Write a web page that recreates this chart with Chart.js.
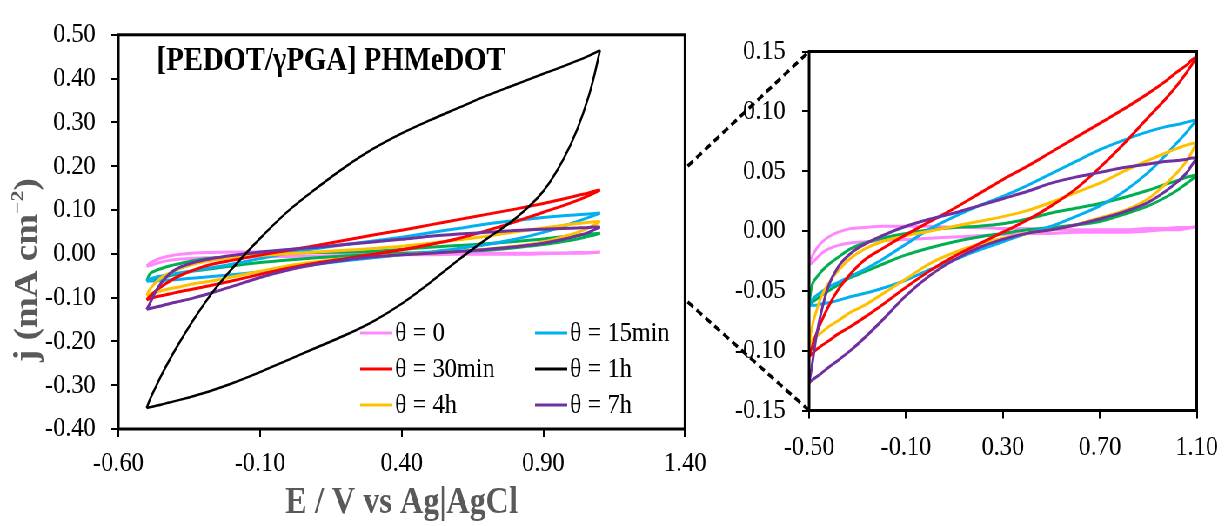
<!DOCTYPE html>
<html>
<head>
<meta charset="utf-8">
<title>[PEDOT/γPGA] PHMeDOT - cyclic voltammograms</title>
<script src="https://cdn.jsdelivr.net/npm/chart.js@4.4.1/dist/chart.umd.min.js"></script>
<style>
  html, body { margin: 0; padding: 0; background: #fff; overflow: hidden; }
  /* the source figure is squeezed horizontally, so the whole stage is too */
  #stage { position: absolute; left: 0; top: 0; width: 1412px; height: 526px;
           transform: scaleX(0.87); transform-origin: 0 0; }
  #main { position: absolute; left: 0; top: 0; }
  #inset { position: absolute; left: 786px; top: 0; }
</style>
</head>
<body>
<div id="stage">
  <canvas id="main" width="830" height="526"></canvas>
  <canvas id="inset" width="626" height="526"></canvas>
</div>
<script>
/* ---------- Data (E in V vs Ag|AgCl, j in mA cm-2) ---------- */
const potentials = [-0.50, -0.49, -0.47, -0.45, -0.42, -0.38, -0.33, -0.27, -0.20, -0.10,
                    0.00, 0.10, 0.20, 0.30, 0.40, 0.50, 0.60, 0.70, 0.80, 0.90,
                    0.97, 1.02, 1.06, 1.08, 1.10];

// forward (anodic) branch and backward (cathodic) branch, both listed on the potentials grid
const pinkFwd   = [-0.028, -0.022, -0.015, -0.010, -0.005, -0.001, 0.002, 0.003, 0.004, 0.004, 0.004, 0.003, 0.003, 0.002, 0.002, 0.001, 0.001, 0.001, 0.001, 0.002, 0.002, 0.003, 0.003, 0.003, 0.004];
const pinkRev   = [-0.028, -0.027, -0.023, -0.019, -0.015, -0.012, -0.010, -0.009, -0.008, -0.007, -0.006, -0.005, -0.004, -0.003, -0.002, -0.002, -0.001, -0.001, -0.001, 0.000, 0.001, 0.001, 0.002, 0.003, 0.004];
const blueFwd   = [-0.062, -0.058, -0.054, -0.051, -0.047, -0.043, -0.038, -0.032, -0.024, -0.011, 0.002, 0.012, 0.021, 0.029, 0.038, 0.048, 0.058, 0.068, 0.076, 0.083, 0.087, 0.089, 0.091, 0.092, 0.093];
const blueRev   = [-0.062, -0.062, -0.062, -0.061, -0.060, -0.058, -0.055, -0.052, -0.048, -0.041, -0.032, -0.024, -0.016, -0.009, -0.002, 0.004, 0.012, 0.021, 0.033, 0.049, 0.063, 0.074, 0.083, 0.088, 0.093];
const redFwd    = [-0.105, -0.098, -0.086, -0.076, -0.063, -0.049, -0.036, -0.024, -0.015, -0.003, 0.008, 0.019, 0.031, 0.043, 0.054, 0.066, 0.078, 0.090, 0.102, 0.115, 0.125, 0.133, 0.139, 0.143, 0.146];
const redRev    = [-0.105, -0.103, -0.099, -0.096, -0.092, -0.086, -0.080, -0.072, -0.062, -0.047, -0.033, -0.021, -0.011, -0.001, 0.009, 0.021, 0.035, 0.053, 0.073, 0.095, 0.110, 0.122, 0.133, 0.139, 0.146];
const blackFwd  = [-0.352, -0.335, -0.307, -0.280, -0.243, -0.198, -0.146, -0.090, -0.035, 0.035, 0.098, 0.150, 0.198, 0.240, 0.275, 0.305, 0.333, 0.361, 0.386, 0.411, 0.428, 0.441, 0.452, 0.458, 0.465];
const blackRev  = [-0.352, -0.3505, -0.3475, -0.3445, -0.3395, -0.333, -0.324, -0.312, -0.296, -0.270, -0.242, -0.214, -0.186, -0.154, -0.114, -0.066, -0.014, 0.034, 0.080, 0.143, 0.215, 0.285, 0.360, 0.408, 0.465];
const yellowFwd = [-0.095, -0.082, -0.067, -0.055, -0.044, -0.033, -0.023, -0.015, -0.009, -0.004, 0.000, 0.004, 0.008, 0.012, 0.017, 0.024, 0.032, 0.040, 0.050, 0.059, 0.065, 0.069, 0.072, 0.073, 0.074];
const yellowRev = [-0.095, -0.092, -0.088, -0.085, -0.080, -0.075, -0.068, -0.062, -0.053, -0.040, -0.027, -0.018, -0.011, -0.006, -0.002, 0.001, 0.005, 0.011, 0.017, 0.027, 0.039, 0.049, 0.059, 0.066, 0.074];
const purpleFwd = [-0.127, -0.115, -0.088, -0.068, -0.046, -0.030, -0.019, -0.011, -0.004, 0.004, 0.010, 0.015, 0.021, 0.027, 0.033, 0.040, 0.045, 0.049, 0.053, 0.056, 0.058, 0.059, 0.060, 0.061, 0.061];
const purpleRev = [-0.127, -0.125, -0.122, -0.119, -0.114, -0.108, -0.100, -0.089, -0.075, -0.054, -0.037, -0.024, -0.014, -0.007, -0.002, 0.001, 0.005, 0.010, 0.016, 0.024, 0.033, 0.041, 0.049, 0.055, 0.061];
const greenFwd  = [-0.062, -0.047, -0.039, -0.034, -0.028, -0.022, -0.015, -0.010, -0.006, -0.002, 0.001, 0.003, 0.004, 0.006, 0.010, 0.015, 0.019, 0.023, 0.028, 0.034, 0.039, 0.042, 0.045, 0.046, 0.047];
const greenRev  = [-0.062, -0.060, -0.057, -0.054, -0.050, -0.045, -0.039, -0.034, -0.028, -0.020, -0.014, -0.009, -0.005, -0.002, 0.001, 0.003, 0.005, 0.008, 0.014, 0.021, 0.028, 0.034, 0.040, 0.043, 0.047];

const legendLabels = ["θ = 0", "θ = 15min", "θ = 30min", "θ = 1h", "θ = 4h", "θ = 7h"];

const mainXTicks  = [-0.60, -0.10, 0.40, 0.90, 1.40];
const mainYTicks  = [-0.40, -0.30, -0.20, -0.10, 0.00, 0.10, 0.20, 0.30, 0.40, 0.50];
const insetXTicks = [-0.50, -0.10, 0.30, 0.70, 1.10];
const insetYTicks = [-0.15, -0.10, -0.05, 0.00, 0.05, 0.10, 0.15];
const zoomedRange = [-0.11, 0.20];   // where the dashed guide lines leave the main plot

const figureTitle = "[PEDOT/γPGA] PHMeDOT";
const xTitle = "E / V vs Ag|AgCl";

/* ---------- Styles ---------- */
const SERIF = "'Liberation Serif', 'Times New Roman', serif";
const TITLE_GREY = "#595959";
const INSET_LEFT = 786;   // css left of the inset canvas inside the stage

// first entry is drawn on top
const series = [
    { key: "1h",    label: legendLabels[3], color: "#000000", fwd: blackFwd,  rev: blackRev,  width: 2.5 },
    { key: "7h",    label: legendLabels[5], color: "#7030a0", fwd: purpleFwd, rev: purpleRev, width: 3 },
    { key: "30min", label: legendLabels[2], color: "#ff0000", fwd: redFwd,    rev: redRev,    width: 3 },
    { key: "4h",    label: legendLabels[4], color: "#ffc000", fwd: yellowFwd, rev: yellowRev, width: 3 },
    { key: "15min", label: legendLabels[1], color: "#00b0f0", fwd: blueFwd,   rev: blueRev,   width: 3 },
    { key: "green", label: "",              color: "#00b050", fwd: greenFwd,  rev: greenRev,  width: 3 },
    { key: "0",     label: legendLabels[0], color: "#ff88ff", fwd: pinkFwd,   rev: pinkRev,   width: 3 }
];

/* ---------- Helpers ---------- */
function branch(values) {
    return potentials.map((e, i) => ({ x: e, y: values[i] }));
}

// each voltammogram = two branches, drawn as smooth monotone curves
function datasetsFor(list) {
    return list.flatMap(s => [s.fwd, s.rev].map(vals => ({
        label: s.label,
        data: branch(vals),
        borderColor: s.color,
        borderWidth: s.width,
        showLine: true,
        pointRadius: 0,
        cubicInterpolationMode: "monotone",
        fill: false
    })));
}

function axis(min, max, tickValues, opts) {
    return {
        type: "linear",
        min, max,
        afterBuildTicks: s => { s.ticks = tickValues.map(v => ({ value: v })); },
        afterFit: opts.fit,
        border: { display: false },
        grid: { drawOnChartArea: false, drawTicks: true, tickLength: 8, color: "#000", lineWidth: 2 },
        ticks: {
            autoSkip: false, maxRotation: 0,
            padding: opts.pad,
            color: "#000",
            font: { family: SERIF, size: 28 },
            callback: v => v.toFixed(2)
        }
    };
}

function drawFrame(ctx, a) {
    ctx.strokeStyle = "#000";
    ctx.lineWidth = 3;
    ctx.strokeRect(a.left, a.top, a.right - a.left, a.bottom - a.top);
}

/* ---------- Main plot decorations ---------- */
const mainDecor = {
    id: "mainDecor",
    afterDraw(chart) {
        const { ctx, chartArea: a } = chart;
        ctx.save();
        drawFrame(ctx, a);

        // header inside the plot
        ctx.fillStyle = "#000";
        ctx.font = "bold 33px " + SERIF;
        ctx.textAlign = "left";
        ctx.textBaseline = "alphabetic";
        ctx.fillText(figureTitle, a.left + 44, 70);

        // x axis title
        ctx.fillStyle = TITLE_GREY;
        ctx.font = "bold 37px " + SERIF;
        ctx.textAlign = "center";
        ctx.fillText(xTitle, (a.left + a.right) / 2, 513);

        // y axis title with superscript
        const big = "bold 37px " + SERIF, small = "bold 22px " + SERIF;
        ctx.font = big;
        const w1 = ctx.measureText("j (mA cm").width;
        const w3 = ctx.measureText(")").width;
        ctx.font = small;
        const w2 = ctx.measureText("\u22122").width;
        ctx.translate(42, 270);
        ctx.rotate(-Math.PI / 2);
        ctx.textAlign = "left";
        let x = -(w1 + w2 + w3) / 2;
        ctx.font = big;   ctx.fillText("j (mA cm", x, 0); x += w1;
        ctx.font = small; ctx.fillText("\u22122", x, -15); x += w2;
        ctx.font = big;   ctx.fillText(")", x, 0);
        ctx.setTransform(1, 0, 0, 1, 0, 0);

        // legend, two columns
        const cols = [a.left + 278, a.left + 479];
        const rows = [a.bottom - 96, a.bottom - 60, a.bottom - 24];
        ctx.font = "28px " + SERIF;
        ctx.textBaseline = "middle";
        ctx.fillStyle = "#000";
        legendLabels.forEach((lab, k) => {
            const s = series.find(d => d.label === lab);
            const lx = cols[k % 2], ly = rows[Math.floor(k / 2)];
            ctx.strokeStyle = s.color;
            ctx.lineWidth = 3;
            ctx.beginPath();
            ctx.moveTo(lx, ly);
            ctx.lineTo(lx + 37, ly);
            ctx.stroke();
            ctx.fillText(lab, lx + 40, ly + 1);
        });
        ctx.restore();
    }
};

/* ---------- Inset decorations ---------- */
let mainChart = null;

const insetDecor = {
    id: "insetDecor",
    afterDraw(chart) {
        const { ctx, chartArea: a } = chart;
        ctx.save();
        drawFrame(ctx, a);
        if (mainChart) {
            const m = mainChart.chartArea, my = mainChart.scales.y;
            const x0 = m.right + 3 - INSET_LEFT;
            ctx.strokeStyle = "#000";
            ctx.lineWidth = 3.5;
            ctx.setLineDash([8, 5]);
            ctx.beginPath();
            ctx.moveTo(x0, my.getPixelForValue(zoomedRange[1]));
            ctx.lineTo(a.left, a.top);
            ctx.moveTo(x0, my.getPixelForValue(zoomedRange[0]));
            ctx.lineTo(a.left, a.bottom);
            ctx.stroke();
        }
        ctx.restore();
    }
};

/* ---------- Charts ---------- */
function init() {
    mainChart = new Chart(document.getElementById("main"), {
        type: "scatter",
        data: { datasets: datasetsFor(series) },
        options: {
            responsive: false,
            animation: false,
            devicePixelRatio: 1,
            events: [],
            layout: { padding: { left: 0, right: 42.6, top: 23, bottom: 0 } },
            plugins: { legend: { display: false }, tooltip: { enabled: false } },
            scales: {
                x: axis(-0.6, 1.4, mainXTicks, { pad: 9.5, fit: s => { s.height = 97; } }),
                y: axis(-0.4, 0.5, mainYTicks, { pad: 18, fit: s => { s.width = 136; } })
            }
        },
        plugins: [mainDecor]
    });

    new Chart(document.getElementById("inset"), {
        type: "scatter",
        data: { datasets: datasetsFor(series.filter(s => s.key !== "1h")) },
        options: {
            responsive: false,
            animation: false,
            devicePixelRatio: 1,
            events: [],
            layout: { padding: { left: 0, right: 31.5, top: 51.5, bottom: 0 } },
            plugins: { legend: { display: false }, tooltip: { enabled: false } },
            scales: {
                x: axis(-0.5, 1.1, insetXTicks, { pad: 12, fit: s => { s.height = 115.5; } }),
                y: axis(-0.15, 0.15, insetYTicks, { pad: 19, fit: s => { s.width = 144; } })
            }
        },
        plugins: [insetDecor]
    });
}

document.addEventListener("DOMContentLoaded", init);
</script>
</body>
</html>
